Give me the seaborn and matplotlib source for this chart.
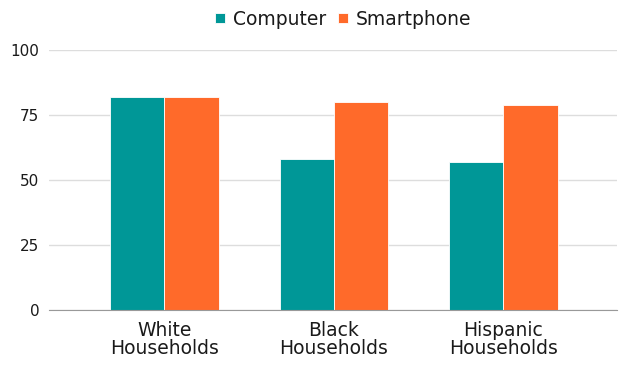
import pandas as pd
import matplotlib.pyplot as plt
import seaborn as sns

groups = ["White\nHouseholds", "Black\nHouseholds", "Hispanic\nHouseholds"]
computer = [82, 58, 57]
smartphone = [82, 80, 79]

df = pd.DataFrame({
    "group": groups * 2,
    "device": ["Computer"] * 3 + ["Smartphone"] * 3,
    "value": computer + smartphone,
})

sns.set_style("white")
plt.rcParams['font.family'] = ['DejaVu Sans']
plt.rcParams['text.color'] = '#1a1a1a'

fig, ax = plt.subplots(figsize=(6.36, 3.73), dpi=100)
fig.subplots_adjust(left=0.077, right=0.970, top=0.866, bottom=0.169)

sns.barplot(data=df, x="group", y="value", hue="device",
            palette=["#009797", "#FF6A2A"], saturation=1, width=0.64, gap=0,
            edgecolor="white", linewidth=0.6, ax=ax)

ax.set_ylim(0, 100)
ax.set_yticks([0, 25, 50, 75, 100])
ax.set_xlim(-0.68, 2.67)
ax.yaxis.grid(True, color="#dddddd", linewidth=1)
ax.set_axisbelow(True)
for s in ["top", "right", "left"]:
    ax.spines[s].set_visible(False)
ax.spines["bottom"].set_color("#999999")
ax.tick_params(axis="x", labelsize=13.5, length=0, pad=8, labelcolor="#1a1a1a")
ax.tick_params(axis="y", labelsize=11, length=0, pad=7, labelcolor="#1a1a1a")
for lab in ax.get_xticklabels():
    lab.set_linespacing(0.95)
ax.set_xlabel("")
ax.set_ylabel("")

ax.legend(loc="lower center", bbox_to_anchor=(0.518, 1.053), ncol=2, frameon=False,
          fontsize=13.5, handlelength=0.5, handleheight=0.5, handletextpad=0.43,
          columnspacing=0.65, borderaxespad=0)

fig.savefig("out.png", dpi=100)
